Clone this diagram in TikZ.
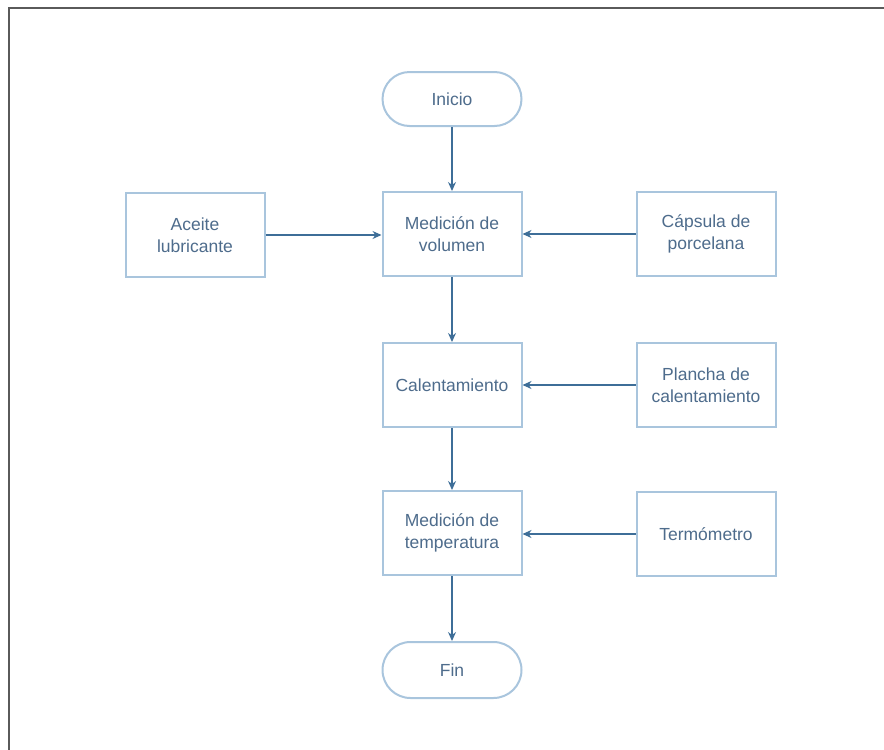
\documentclass[tikz,border=0pt]{standalone}
\usepackage{fontspec}
\setmainfont{Liberation Sans}
\usetikzlibrary{arrows.meta}
\definecolor{boxline}{HTML}{A9C5DD}
\definecolor{flowline}{HTML}{3E6E98}
\definecolor{labeltext}{HTML}{4E6C8C}
\definecolor{frameline}{HTML}{5A5A5A}
\tikzset{
  stepbox/.style={draw=boxline, line width=2pt, fill=white, minimum width=139pt,
    minimum height=84pt, align=center, text=labeltext,
    font=\fontsize{17.5}{22}\selectfont, inner sep=0pt},
  terminal/.style={stepbox, minimum height=54pt, rounded corners=27pt},
  flow/.style={draw=flowline, line width=1.3pt, -{Stealth[length=9pt,width=8pt]}}
}
\begin{document}
\begin{tikzpicture}[x=1pt,y=-1pt]
\useasboundingbox (0,0) rectangle (884,750);
% page frame (top and left edges)
\draw[frameline, line width=2pt] (8.5,750) -- (8.5,8) -- (884,8);

% main column
\node[terminal] (inicio) at (452,99) {Inicio};
\node[stepbox] (volumen) at (452,234) {Medición de\\volumen};
\node[stepbox] (calent) at (452,385) {Calentamiento};
\node[stepbox] (temp) at (452,533) {Medición de\\temperatura};
\node[terminal, minimum height=56pt, rounded corners=28pt] (fin) at (452,670) {Fin};

% inputs
\node[stepbox] (aceite) at (195,235) {Aceite\\lubricante};
\node[stepbox] (capsula) at (706,234) {Cápsula de\\porcelana};
\node[stepbox] (plancha) at (706,385) {Plancha de\\calentamiento};
\node[stepbox] (termo) at (706,534) {Termómetro};

% connectors
\draw[flow] (inicio) -- (volumen);
\draw[flow] (volumen) -- (calent);
\draw[flow] (calent) -- (temp);
\draw[flow] (temp) -- (fin);
\draw[flow] (aceite.east) -- (aceite.east -| volumen.west);
\draw[flow] (capsula.west) -- (capsula.west -| volumen.east);
\draw[flow] (plancha.west) -- (plancha.west -| calent.east);
\draw[flow] (termo.west) -- (termo.west -| temp.east);
\end{tikzpicture}
\end{document}
